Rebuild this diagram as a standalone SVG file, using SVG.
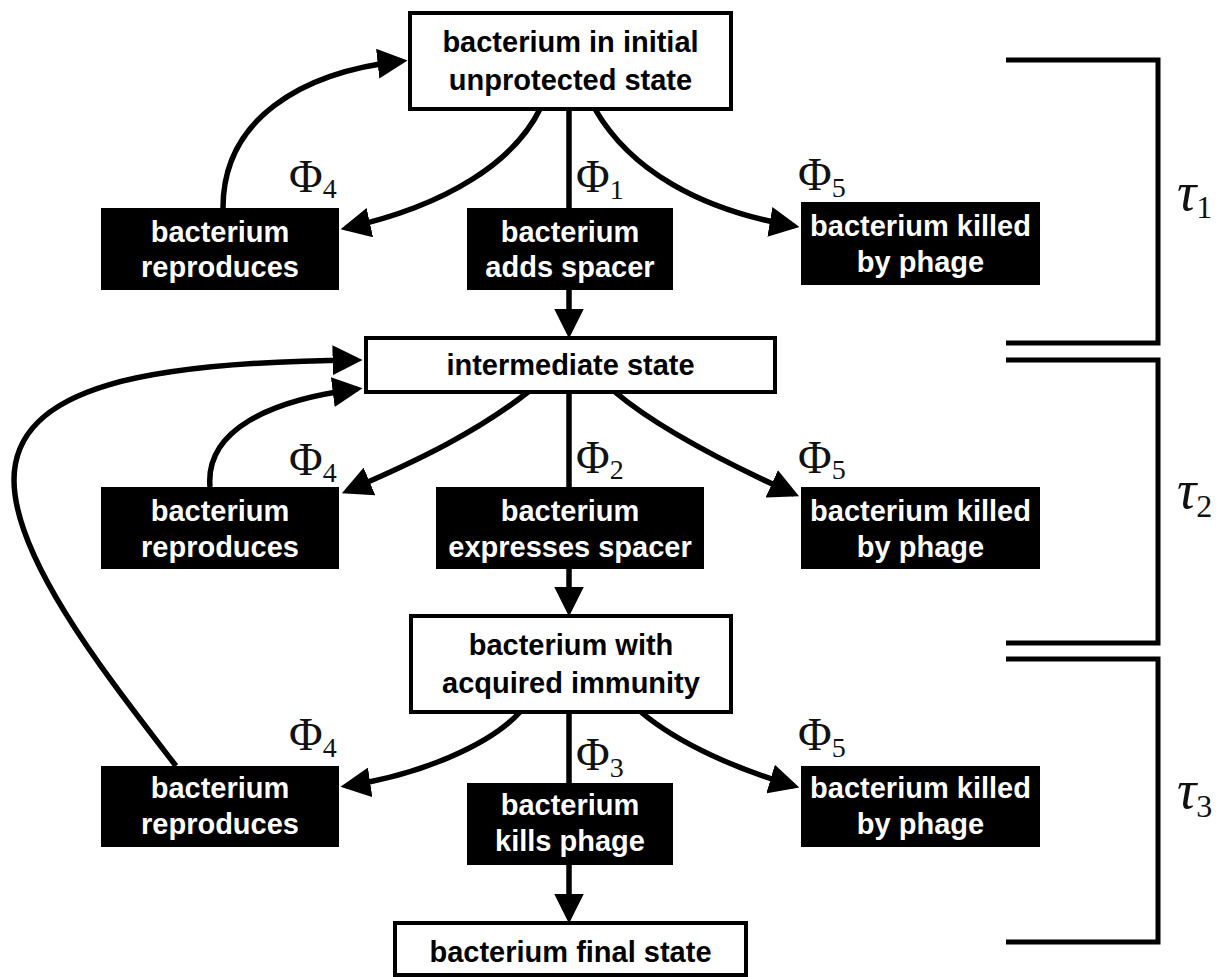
<svg xmlns="http://www.w3.org/2000/svg" width="1229" height="977" viewBox="0 0 1229 977">
<style>
.wb{fill:#fff;stroke:#000;stroke-width:4}
.bb{fill:#000;stroke:none}
.t{font-family:"Liberation Sans",Arial,sans-serif;font-weight:bold;font-size:29px;text-anchor:middle}
.tw{fill:#fff}
.tk{fill:#000}
.c{fill:none;stroke:#000;stroke-width:5.5}
.a{marker-end:url(#ah)}
.phi{font-family:"Liberation Serif","DejaVu Serif",serif;font-size:46px;fill:#111}
.sub{font-size:28px}
.tau{font-family:"Liberation Serif","DejaVu Serif",serif;font-style:italic;font-size:54px;fill:#111}
.tsub{font-size:32px;font-style:normal}
.br{fill:none;stroke:#000;stroke-width:5}
</style>
<defs>
<marker id="ah" markerUnits="userSpaceOnUse" markerWidth="30" markerHeight="30" viewBox="0 0 27 27" refX="22" refY="13.5" orient="auto">
<path d="M0,0 L27,13.5 L0,27 Z" fill="#000"/>
</marker>
</defs>
<rect width="1229" height="977" fill="#fff"/>

<g id="connectors">
<path class="c a" d="M540,109 C515,160 450,205 346,228"/>
<path class="c a" d="M223,208 C223,120 300,72 402,61"/>
<path class="c a" d="M595,109 C630,170 700,210 794,226"/>
<path class="c" d="M569,109 L569,208"/>
<path class="c a" d="M569,290 L569,333"/>
<path class="c a" d="M528,392 C480,430 420,460 347,491"/>
<path class="c a" d="M210,487 C205,430 270,400 357,389"/>
<path class="c a" d="M176,766 C110,680 14,560 14,480 C14,385 150,362 357,360"/>
<path class="c a" d="M615,392 C660,430 730,465 794,494"/>
<path class="c" d="M569,392 L569,487"/>
<path class="c a" d="M569,569 L569,611"/>
<path class="c a" d="M520,712 C490,745 420,775 346,786"/>
<path class="c a" d="M641,712 C680,745 740,770 794,786"/>
<path class="c" d="M569,712 L569,783"/>
<path class="c a" d="M569,865 L569,918"/>
</g>

<g id="n_initial"><rect class="wb" x="410" y="13" width="321" height="96"/>
<text class="t tk" x="570.5" y="52">bacterium in initial</text>
<text class="t tk" x="570.5" y="90">unprotected state</text></g>

<g id="n_repro1"><rect class="bb" x="101" y="208" width="238" height="82"/>
<text class="t tw" x="220" y="242">bacterium</text>
<text class="t tw" x="220" y="277">reproduces</text></g>

<g id="n_adds"><rect class="bb" x="467" y="208" width="206" height="82"/>
<text class="t tw" x="570" y="242">bacterium</text>
<text class="t tw" x="570" y="277">adds spacer</text></g>

<g id="n_killed1"><rect class="bb" x="801" y="202" width="239" height="83"/>
<text class="t tw" x="920.5" y="236">bacterium killed</text>
<text class="t tw" x="920.5" y="272">by phage</text></g>

<g id="n_inter"><rect class="wb" x="366" y="338" width="409" height="54"/>
<text class="t tk" x="570.5" y="375">intermediate state</text></g>

<g id="n_repro2"><rect class="bb" x="101" y="487" width="238" height="82"/>
<text class="t tw" x="220" y="521">bacterium</text>
<text class="t tw" x="220" y="557">reproduces</text></g>

<g id="n_express"><rect class="bb" x="436" y="487" width="268" height="82"/>
<text class="t tw" x="570" y="521">bacterium</text>
<text class="t tw" x="570" y="557">expresses spacer</text></g>

<g id="n_killed2"><rect class="bb" x="801" y="487" width="239" height="82"/>
<text class="t tw" x="920.5" y="521">bacterium killed</text>
<text class="t tw" x="920.5" y="557">by phage</text></g>

<g id="n_immune"><rect class="wb" x="411" y="616" width="320" height="96"/>
<text class="t tk" x="571" y="655">bacterium with</text>
<text class="t tk" x="571" y="693">acquired immunity</text></g>

<g id="n_repro3"><rect class="bb" x="101" y="766" width="238" height="81"/>
<text class="t tw" x="220" y="798">bacterium</text>
<text class="t tw" x="220" y="834">reproduces</text></g>

<g id="n_kills"><rect class="bb" x="467" y="783" width="206" height="82"/>
<text class="t tw" x="570" y="815">bacterium</text>
<text class="t tw" x="570" y="851">kills phage</text></g>

<g id="n_killed3"><rect class="bb" x="801" y="766" width="239" height="81"/>
<text class="t tw" x="920.5" y="798">bacterium killed</text>
<text class="t tw" x="920.5" y="834">by phage</text></g>

<g id="n_final"><rect class="wb" x="395" y="923" width="351" height="52"/>
<text class="t tk" x="570.5" y="962">bacterium final state</text></g>

<g id="labels">
<text class="phi" x="289" y="192">Φ<tspan class="sub" dy="6">4</tspan></text>
<text class="phi" x="576" y="192">Φ<tspan class="sub" dy="7">1</tspan></text>
<text class="phi" x="798" y="190">Φ<tspan class="sub" dy="7">5</tspan></text>
<text class="phi" x="289" y="475">Φ<tspan class="sub" dy="7">4</tspan></text>
<text class="phi" x="576" y="473">Φ<tspan class="sub" dy="6">2</tspan></text>
<text class="phi" x="798" y="473">Φ<tspan class="sub" dy="6">5</tspan></text>
<text class="phi" x="289" y="750">Φ<tspan class="sub" dy="7">4</tspan></text>
<text class="phi" x="576" y="770">Φ<tspan class="sub" dy="7">3</tspan></text>
<text class="phi" x="798" y="750">Φ<tspan class="sub" dy="7">5</tspan></text>
</g>

<g id="brackets">
<path class="br" d="M1006,60 H1158 V343 H1006"/>
<path class="br" d="M1006,360 H1158 V643 H1006"/>
<path class="br" d="M1006,659 H1158 V942 H1006"/>
<text class="tau" x="1177" y="210">τ<tspan class="tsub" dy="8">1</tspan></text>
<text class="tau" x="1177" y="508">τ<tspan class="tsub" dy="9">2</tspan></text>
<text class="tau" x="1177" y="808">τ<tspan class="tsub" dy="9">3</tspan></text>
</g>
</svg>
